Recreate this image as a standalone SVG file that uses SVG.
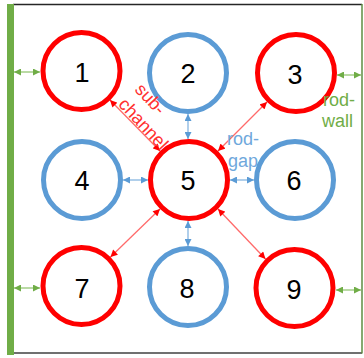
<svg xmlns="http://www.w3.org/2000/svg" width="364" height="358" viewBox="0 0 364 358">
  <style>
    .num { font-family: "Liberation Sans", Arial, sans-serif; font-size: 27px; fill: #000; text-anchor: middle; }
    .lbl { font-family: "Liberation Sans", Arial, sans-serif; font-size: 18px; }
    .red { fill: none; stroke: #FF0000; stroke-width: 5; }
    .blue { fill: none; stroke: #5B9BD5; stroke-width: 5; }
    .cr { stroke: #FF6A6A; stroke-width: 1.3; fill: none; marker-start: url(#ar); marker-end: url(#ar); }
    .cb { stroke: #9DC3E6; stroke-width: 1.6; fill: none; marker-start: url(#ab); marker-end: url(#ab); }
    .cg { stroke: #A9D18E; stroke-width: 1.6; fill: none; marker-start: url(#ag); marker-end: url(#ag); }
  </style>
  <defs>
    <marker id="ar" viewBox="0 0 10 10" refX="10" refY="5" markerUnits="userSpaceOnUse" markerWidth="8" markerHeight="7" orient="auto-start-reverse">
      <path d="M0,0 L10,5 L0,10 z" fill="#FF0000"/>
    </marker>
    <marker id="ab" viewBox="0 0 10 10" refX="10" refY="5" markerUnits="userSpaceOnUse" markerWidth="8" markerHeight="7" orient="auto-start-reverse">
      <path d="M0,0 L10,5 L0,10 z" fill="#5B9BD5"/>
    </marker>
    <marker id="ag" viewBox="0 0 10 10" refX="10" refY="5" markerUnits="userSpaceOnUse" markerWidth="8" markerHeight="7" orient="auto-start-reverse">
      <path d="M0,0 L10,5 L0,10 z" fill="#70AD47"/>
    </marker>
  </defs>

  <g id="frame">
    <rect x="0" y="0" width="364" height="358" fill="#FFFFFF"/>
    <line x1="13" y1="4.5" x2="362" y2="4.5" stroke="#262626" stroke-width="1.5"/>
    <line x1="13" y1="353" x2="362" y2="353" stroke="#404040" stroke-width="1.5"/>
    <line x1="362" y1="4" x2="362" y2="353.5" stroke="#5E8C42" stroke-width="1.5"/>
    <rect id="wall-left" x="7" y="4" width="7" height="351" fill="#70AD47"/>
  </g>

  <g id="connectors">
    <line class="cg" x1="14" y1="72" x2="40" y2="72"/>
    <line class="cg" x1="14" y1="288" x2="40" y2="288"/>
    <line class="cg" x1="337" y1="75" x2="361" y2="75"/>
    <line class="cg" x1="336" y1="290" x2="361" y2="290"/>
    <line class="cr" x1="110" y1="100" x2="160" y2="151"/>
    <line class="cr" x1="267" y1="102" x2="218" y2="151"/>
    <line class="cr" x1="160" y1="209" x2="110.5" y2="257"/>
    <line class="cr" x1="218" y1="209" x2="265.5" y2="259"/>
    <line class="cb" x1="188" y1="114" x2="188" y2="139"/>
    <line class="cb" x1="123" y1="180" x2="148" y2="180"/>
    <line class="cb" x1="230" y1="180" x2="254" y2="180"/>
    <line class="cb" x1="188" y1="221" x2="188" y2="246"/>
  </g>

  <g id="n1"><circle class="red" cx="81.5" cy="71" r="38.5"/><text class="num" x="82" y="82">1</text></g>
  <g id="n2"><circle class="blue" cx="188" cy="73" r="38.5"/><text class="num" x="188" y="83">2</text></g>
  <g id="n3"><circle class="red" cx="296" cy="73" r="38.5"/><text class="num" x="295" y="84">3</text></g>
  <g id="n4"><circle class="blue" cx="82" cy="180" r="38.5"/><text class="num" x="82" y="190">4</text></g>
  <g id="n5"><circle class="red" cx="189" cy="180" r="38.5"/><text class="num" x="188" y="190">5</text></g>
  <g id="n6"><circle class="blue" cx="295" cy="180" r="38.5"/><text class="num" x="294" y="190">6</text></g>
  <g id="n7"><circle class="red" cx="81.5" cy="286" r="38.5"/><text class="num" x="82" y="298">7</text></g>
  <g id="n8"><circle class="blue" cx="188" cy="287" r="38.5"/><text class="num" x="187" y="298">8</text></g>
  <g id="n9"><circle class="red" cx="294.5" cy="288" r="38.5"/><text class="num" x="294" y="299">9</text></g>

  <g id="labels">
    <text class="lbl" fill="#FF3030" text-anchor="middle" transform="translate(146,103) rotate(47)">sub-</text>
    <text class="lbl" fill="#FF3030" text-anchor="middle" transform="translate(139,128) rotate(47)">channel</text>
    <text class="lbl" fill="#6FA8DC" x="227" y="145">rod-</text>
    <text class="lbl" fill="#6FA8DC" x="228" y="167">gap</text>
    <text class="lbl" fill="#70AD47" x="323" y="106">rod-</text>
    <text class="lbl" fill="#70AD47" x="322" y="127">wall</text>
  </g>
</svg>
